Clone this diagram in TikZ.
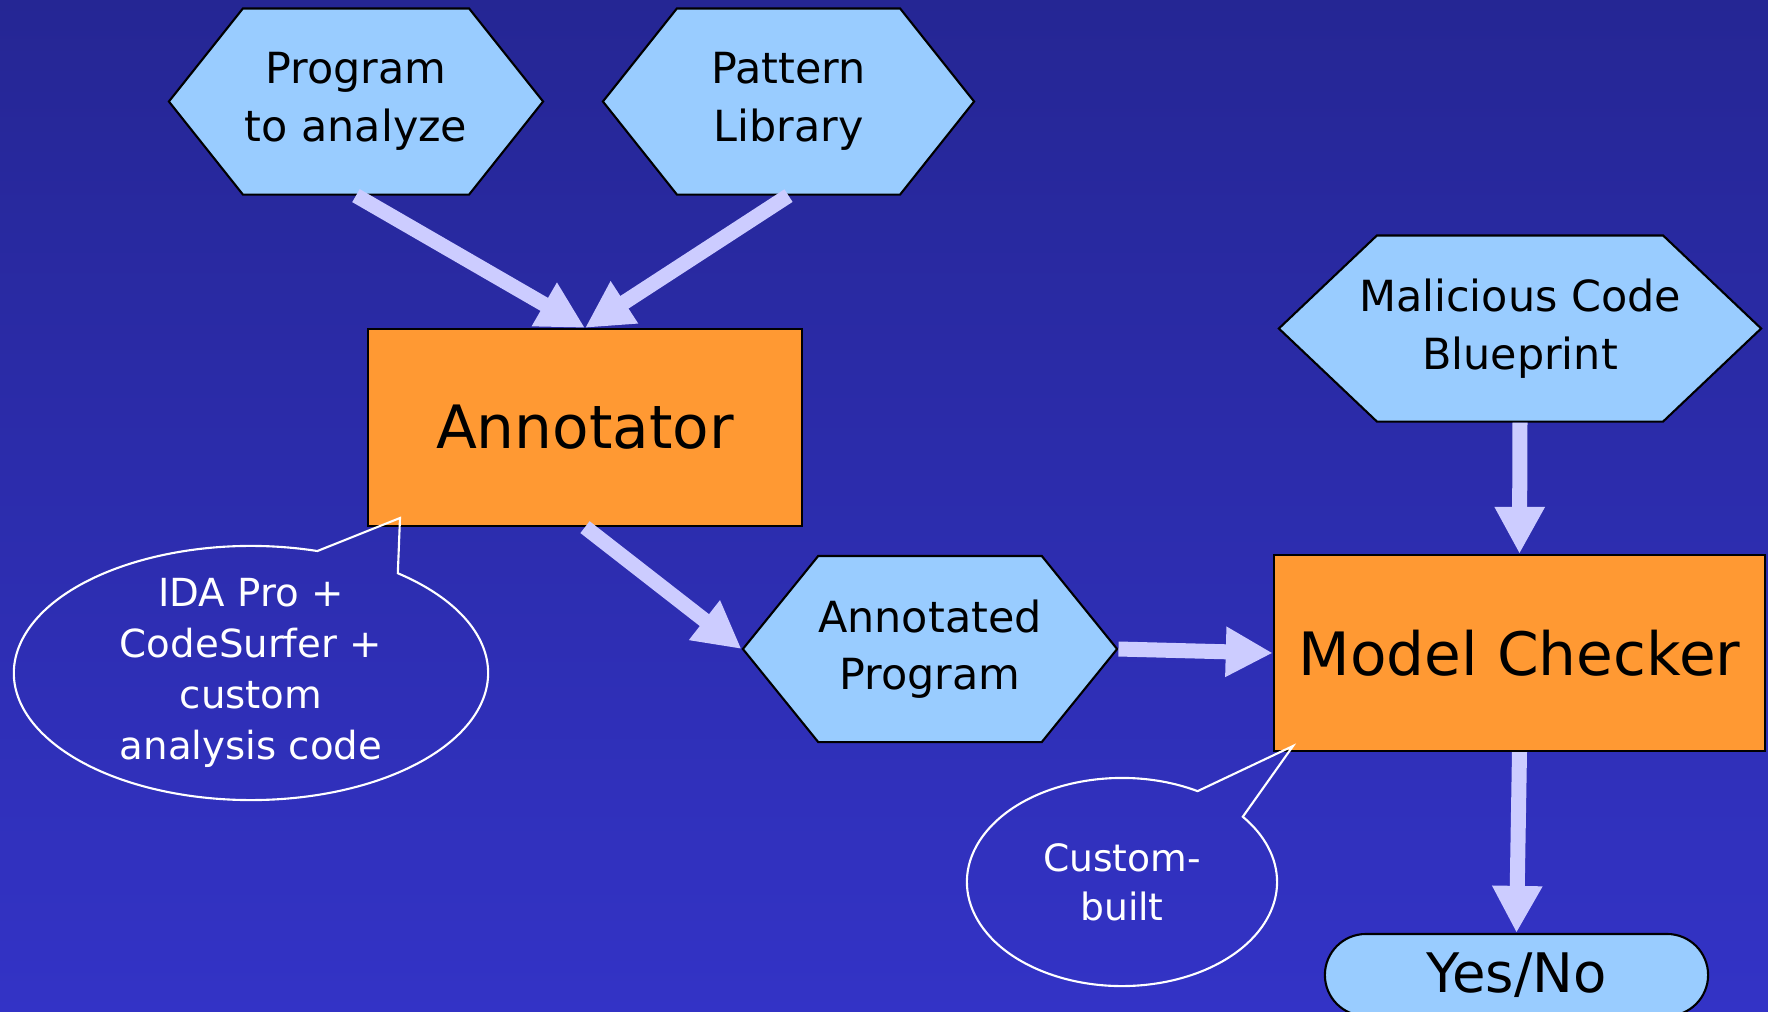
\documentclass[tikz,border=0pt]{standalone}
\usepackage{fontspec}
\setmainfont{DejaVu Sans}
\usepackage{xcolor}
\usetikzlibrary{shapes.symbols, shapes.callouts, arrows.meta}

\definecolor{hexblue}{RGB}{153,204,255}
\definecolor{boxorange}{RGB}{255,153,51}
\definecolor{arrowlav}{RGB}{204,204,255}
\definecolor{bgtop}{RGB}{37,38,148}
\definecolor{bgbottom}{RGB}{51,51,198}

\tikzset{
  hexa/.style={signal, signal to=west and east, draw=black, line width=0.6pt,
    fill=hexblue, inner sep=0pt, align=center, minimum height=1.86cm,
    font=\fontsize{12.2}{16.4}\selectfont},
  stepbox/.style={rectangle, draw=black, line width=0.6pt, fill=boxorange, inner sep=0pt,
    font=\fontsize{17}{20}\selectfont},
  bubble/.style={ellipse callout, draw=white, line width=0.6pt, text=white,
    align=center, inner sep=0pt, callout pointer arc=22},
  flow/.style={draw=arrowlav, line width=0.15cm, -{Triangle[width=4.7mm,length=4.7mm]}},
}

\begin{document}
\begin{tikzpicture}[x=0.01cm, y=-0.01cm]
  \shade[top color=bgtop, bottom color=bgbottom] (0,0) rectangle (1768,1011);
  \useasboundingbox (0,0) rectangle (1768,1011);
  \clip (0,0) rectangle (1768,1011);

  \node[hexa, minimum width=3.74cm, signal pointer angle=103] (prog) at (356,101.5) {Program\\to analyze};
  \node[hexa, minimum width=3.71cm, signal pointer angle=103] (pattern) at (788.5,101.5) {Pattern\\Library};
  \node[hexa, minimum width=4.82cm, signal pointer angle=87, inner xsep=-0.18cm] (blueprint) at (1520,328.5) {Malicious Code\\Blueprint};
  \node[hexa, minimum width=3.73cm, signal pointer angle=102] (annotated) at (930,649) {Annotated\\Program};

  \node[stepbox, minimum width=4.34cm, minimum height=1.97cm] (annot) at (585,427.5) {Annotator};
  \node[stepbox, minimum width=4.91cm, minimum height=1.96cm] (checker) at (1519.5,653) {Model Checker};
  \node[draw=black, line width=0.6pt, fill=hexblue, rounded corners=0.41cm, minimum width=3.83cm,
    minimum height=0.82cm, inner sep=0pt, font=\fontsize{15.5}{18}\selectfont] (yesno) at (1516.5,975) {Yes/No};

  \draw[flow] (prog.south) -- (annot.north);
  \draw[flow] (pattern.south) -- (annot.north);
  \draw[flow] (annot.south) -- (annotated.west);
  \draw[flow] (annotated.east) -- (checker.west);
  \draw[flow] (blueprint.south) -- (checker.north);
  \draw[flow] (checker.south) -- (yesno.north);

  \coordinate (idatip) at (400,518);
  \coordinate (custtip) at (1293,746);
  \node[bubble, minimum width=4.74cm, minimum height=2.54cm, inner ysep=-0.1cm, callout absolute pointer={(idatip)},
    font=\fontsize{11}{14.5}\selectfont] (idabub) at (251,673) {IDA Pro +\\CodeSurfer +\\custom\\analysis code};
  \node[bubble, minimum width=3.10cm, minimum height=2.08cm, callout absolute pointer={(custtip)},
    font=\fontsize{10.7}{14}\selectfont] (custbub) at (1122,882) {Custom-\\built};
\end{tikzpicture}
\end{document}
